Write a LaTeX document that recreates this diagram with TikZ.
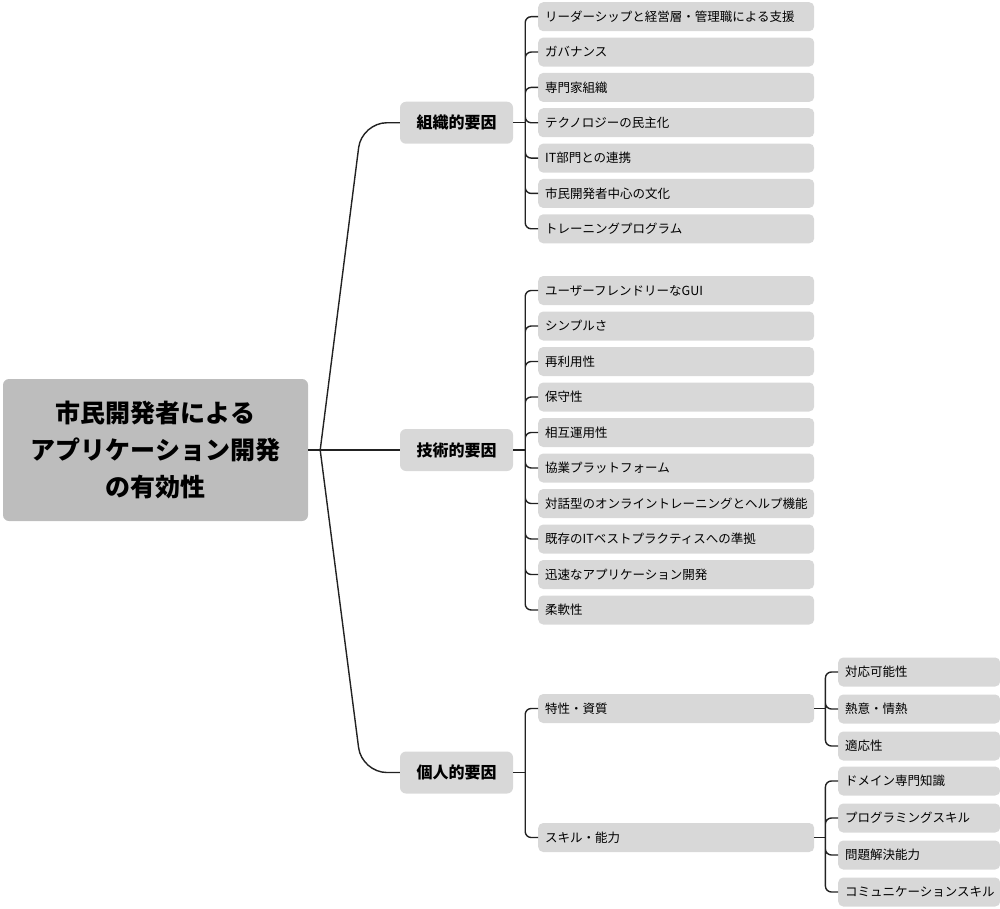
\documentclass[tikz,border=0pt]{standalone}
\usepackage{fontspec}
\setmainfont{Noto Sans CJK JP}
\definecolor{rootgray}{HTML}{BDBDBD}
\definecolor{boxgray}{HTML}{D8D8D8}
\definecolor{linkgray}{HTML}{222222}

\begin{document}
\begin{tikzpicture}[x=1pt, y=-1pt,
                root/.style = {fill=rootgray, rounded corners=6pt, minimum width=305pt, minimum height=142pt, align=center, font=\bfseries\fontsize{25}{37}\selectfont},
                factor/.style = {fill=boxgray, rounded corners=6pt, minimum width=113pt, minimum height=42pt, font=\bfseries\fontsize{16}{19}\selectfont},
                leaf/.style = {fill=boxgray, rounded corners=5pt, anchor=west, minimum height=29pt, inner xsep=7pt, text width=262pt, align=left, font=\fontsize{12.5}{15}\selectfont},
                subleaf/.style = {leaf, text width=148pt},
                link/.style = {draw=linkgray, line width=1.4pt, rounded corners=6pt}
            ]
            \useasboundingbox (0,0) rectangle (1000,909);

            \node[root] (root) at (155.5,450) {市民開発者による\\アプリケーション開発\\の有効性};

            \node[factor] (org) at (456.5,122.75) {組織的要因};
            \node[factor] (tech) at (456.5,450) {技術的要因};
            \node[factor] (pers) at (456.5,772.5) {個人的要因};

            % organisational
            \node[leaf] (o1) at (538,16.7) {リーダーシップと経営層・管理職による支援};
            \node[leaf] (o2) at (538,52.05) {ガバナンス};
            \node[leaf] (o3) at (538,87.4) {専門家組織};
            \node[leaf] (o4) at (538,122.75) {テクノロジーの民主化};
            \node[leaf] (o5) at (538,158.1) {IT部門との連携};
            \node[leaf] (o6) at (538,193.45) {市民開発者中心の文化};
            \node[leaf] (o7) at (538,228.8) {トレーニングプログラム};

            % technical
            \node[leaf] (t1) at (538,290.5) {ユーザーフレンドリーなGUI};
            \node[leaf] (t2) at (538,326) {シンプルさ};
            \node[leaf] (t3) at (538,361.5) {再利用性};
            \node[leaf] (t4) at (538,397) {保守性};
            \node[leaf] (t5) at (538,432.5) {相互運用性};
            \node[leaf] (t6) at (538,468) {協業プラットフォーム};
            \node[leaf] (t7) at (538,503.5) {対話型のオンライントレーニングとヘルプ機能};
            \node[leaf] (t8) at (538,539) {既存のITベストプラクティスへの準拠};
            \node[leaf] (t9) at (538,574.5) {迅速なアプリケーション開発};
            \node[leaf] (t10) at (538,610) {柔軟性};

            % personal
            \node[leaf] (trait) at (538,708.5) {特性・資質};
            \node[leaf] (skill) at (538,837.5) {スキル・能力};
            \node[subleaf] (p1) at (838,672) {対応可能性};
            \node[subleaf] (p2) at (838,709) {熱意・情熱};
            \node[subleaf] (p3) at (838,746) {適応性};
            \node[subleaf] (s1) at (838,781) {ドメイン専門知識};
            \node[subleaf] (s2) at (838,818) {プログラミングスキル};
            \node[subleaf] (s3) at (838,855) {問題解決能力};
            \node[subleaf] (s4) at (838,892) {コミュニケーションスキル};

            \coordinate (rj) at ([xshift=12pt]root.east);
            \coordinate (oj) at ([xshift=12pt]org.east);
            \coordinate (tj) at ([xshift=12pt]tech.east);
            \coordinate (pj) at ([xshift=12pt]pers.east);
            \coordinate (trj) at ([xshift=11pt]trait.east);
            \coordinate (skj) at ([xshift=11pt]skill.east);

            \draw[link] (root.east) -- (tech.west);
            \draw[link, rounded corners=25pt] (rj) -- ([xshift=-38pt]org.west) -- (org.west);
            \draw[link, rounded corners=25pt] (rj) -- ([xshift=-38pt]pers.west) -- (pers.west);

            \draw[link] (org.east) -- (oj);
            \draw[link] (oj) |- (o1.west) (oj) |- (o2.west) (oj) |- (o3.west) (oj) |- (o4.west)
                        (oj) |- (o5.west) (oj) |- (o6.west) (oj) |- (o7.west);

            \draw[link] (tech.east) -- (tj);
            \draw[link] (tj) |- (t1.west) (tj) |- (t2.west) (tj) |- (t3.west) (tj) |- (t4.west)
                        (tj) |- (t5.west) (tj) |- (t6.west) (tj) |- (t7.west) (tj) |- (t8.west)
                        (tj) |- (t9.west) (tj) |- (t10.west);

            \draw[link] (pers.east) -- (pj);
            \draw[link] (pj) |- (trait.west) (pj) |- (skill.west);

            \draw[link] (trait.east) -- (trj);
            \draw[link] (trj) |- (p1.west) (trj) |- (p2.west) (trj) |- (p3.west);

            \draw[link] (skill.east) -- (skj);
            \draw[link] (skj) |- (s1.west) (skj) |- (s2.west) (skj) |- (s3.west) (skj) |- (s4.west);
        \end{tikzpicture}
\end{document}
